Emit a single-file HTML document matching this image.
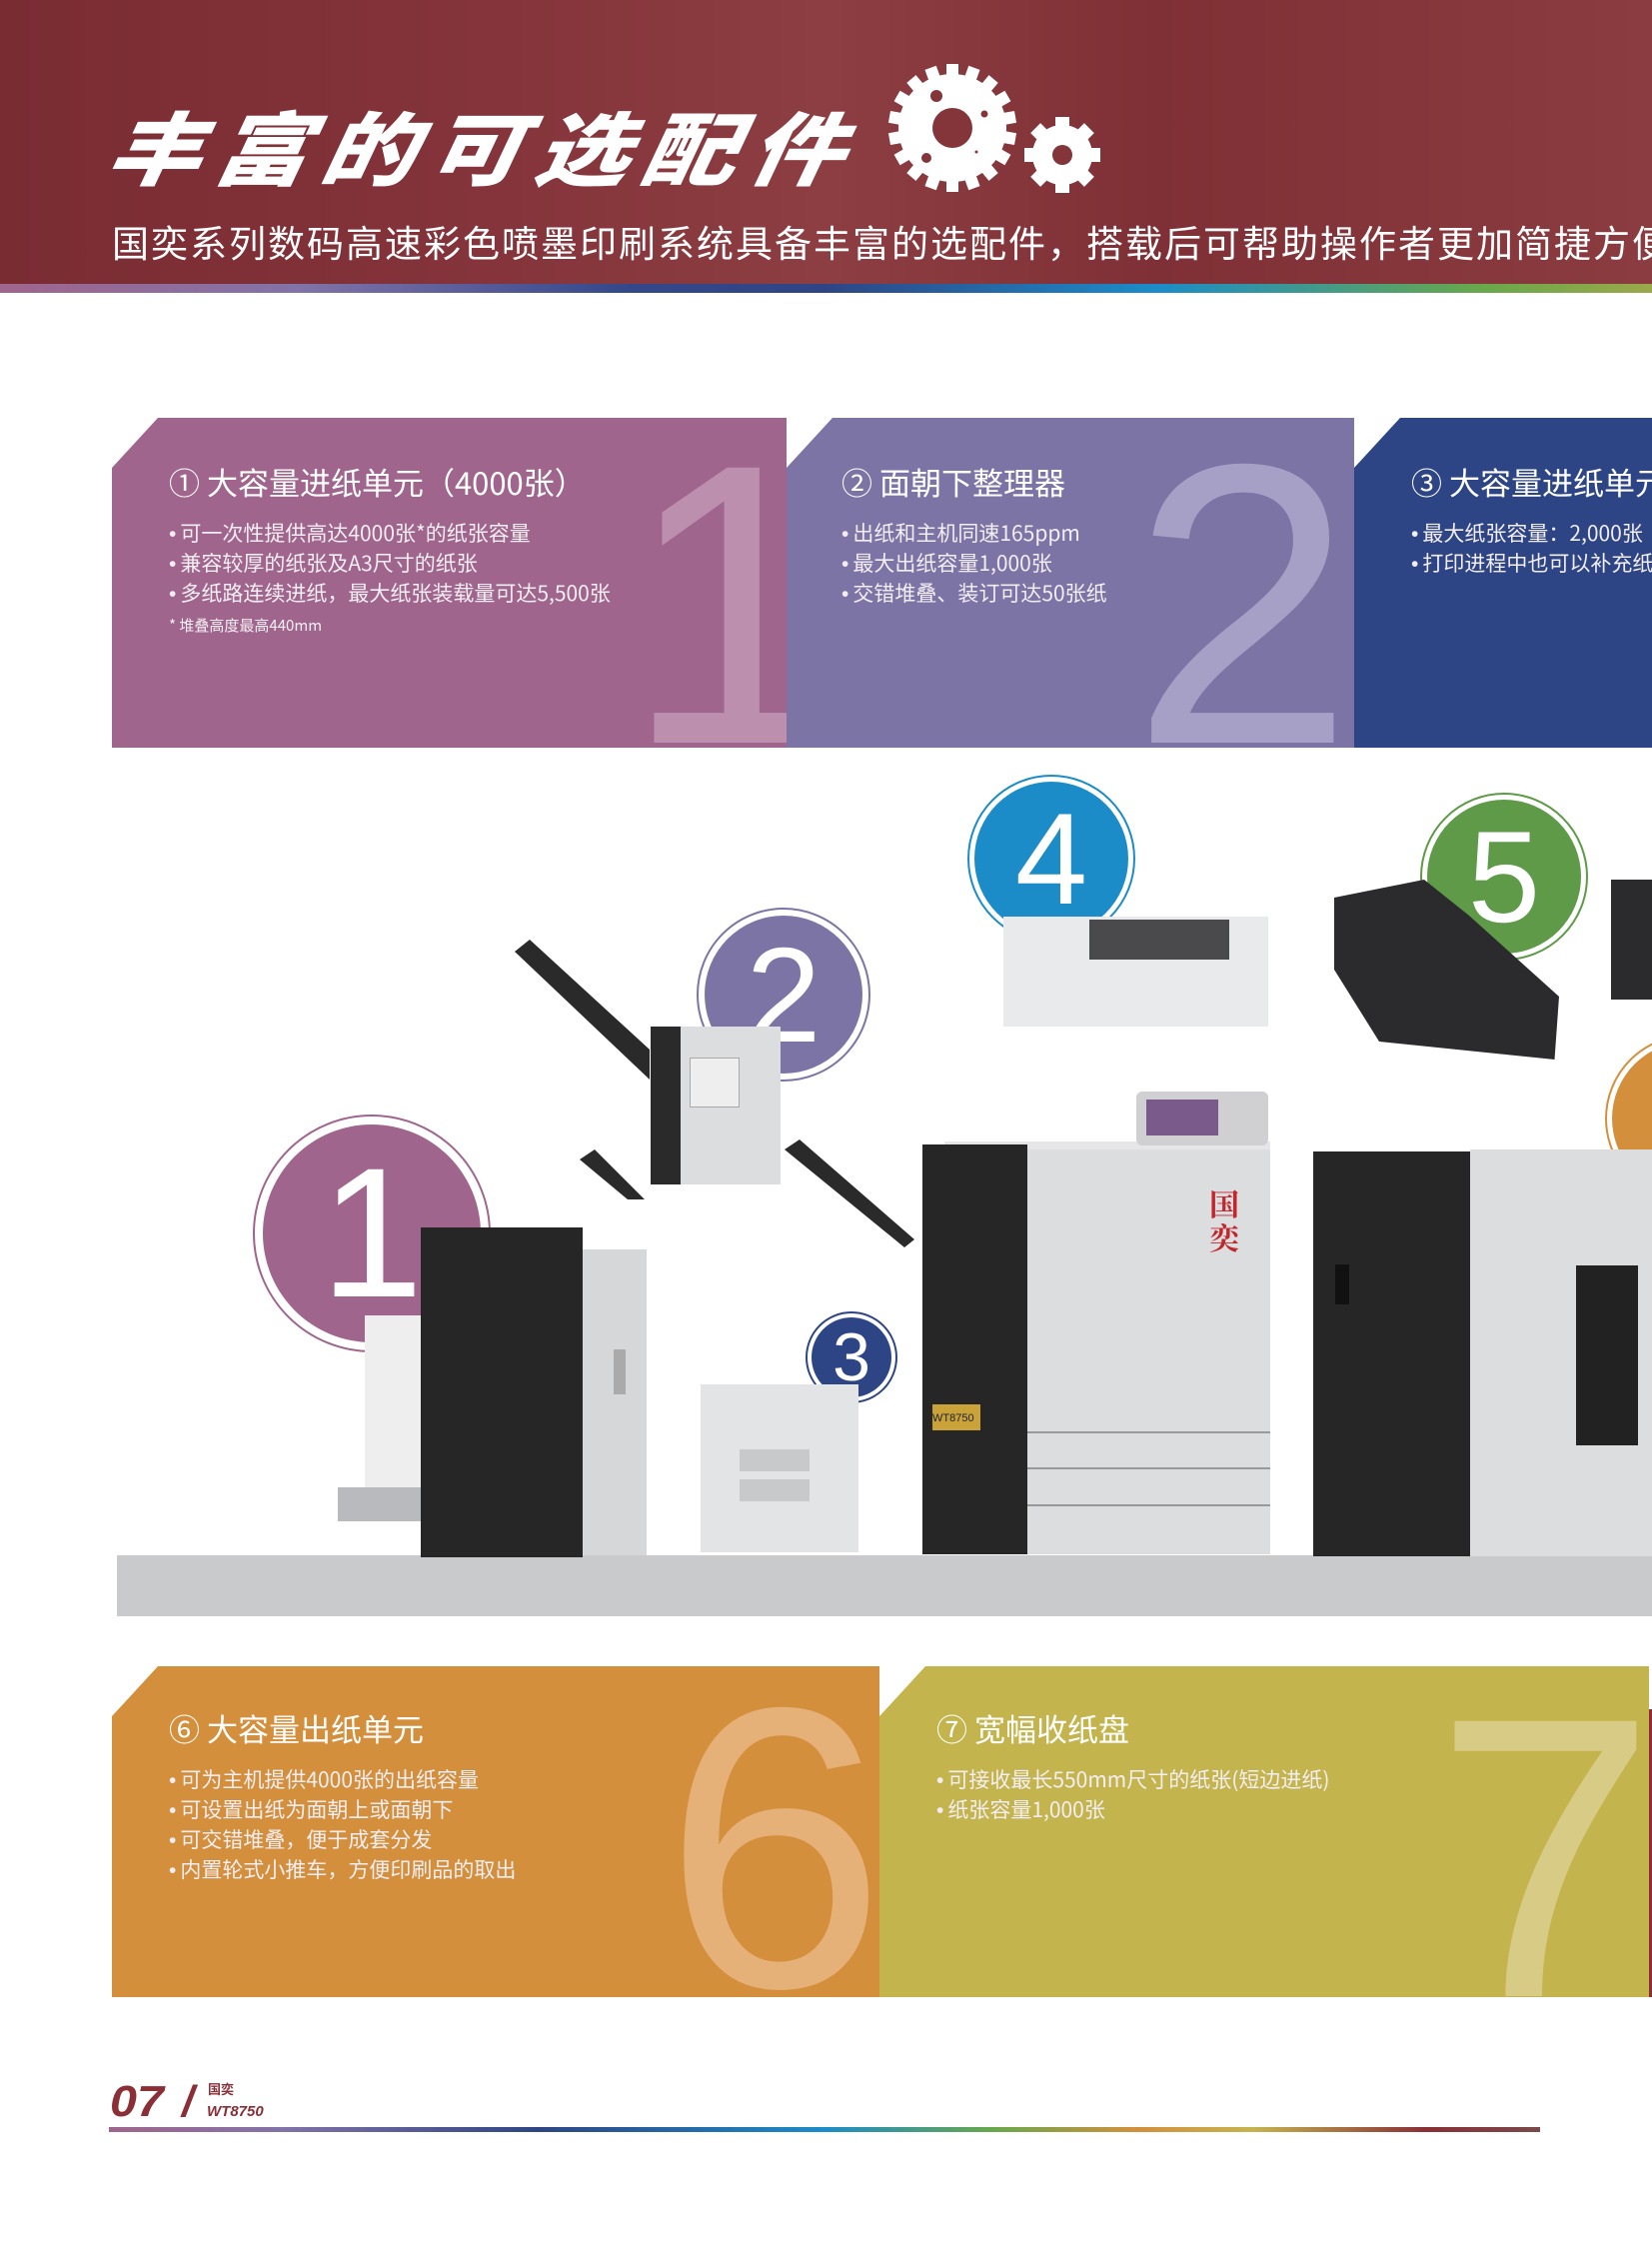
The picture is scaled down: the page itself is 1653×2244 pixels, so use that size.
<!DOCTYPE html>
<html><head><meta charset="utf-8">
<style>
*{margin:0;padding:0;box-sizing:border-box}
body{width:1653px;height:2244px;position:relative;overflow:hidden;background:#fff;font-family:"Liberation Sans","Noto Sans CJK SC",sans-serif;color:#fff}
.a{position:absolute}
.hdr{left:0;top:0;width:1653px;height:284px;background:linear-gradient(90deg,#7a2c33 0%,#84343a 30%,#8c3e42 50%,#7f3036 70%,#8a3c40 100%)}
.stripe{left:0;top:284px;width:1653px;height:9px;background:linear-gradient(90deg,#a0658c 0%,#8273a8 18%,#33488a 38%,#2e4585 50%,#1c8cc8 70%,#6aa84a 90%,#9aa84a 100%)}
.title{left:118px;top:98px;font-size:94px;font-weight:900;font-style:italic;letter-spacing:13px;line-height:110px;white-space:nowrap;font-family:"Noto Sans CJK SC",sans-serif;transform:skewX(-10deg) scaleY(0.85);transform-origin:left top}
.sub{left:112px;top:216px;font-size:37px;letter-spacing:2px;line-height:50px;white-space:nowrap;font-family:"Noto Sans CJK SC",sans-serif}
.panel{overflow:hidden}
.big{position:absolute;font-family:"Liberation Sans",sans-serif;font-size:400px;line-height:400px}
.pt{position:absolute;font-size:31px;line-height:40px;white-space:nowrap;font-family:"Noto Sans CJK SC",sans-serif}
.pb{position:absolute;font-size:21px;line-height:30px;white-space:nowrap;font-family:"Noto Sans CJK SC",sans-serif;color:#f3eef3}
.pb b{font-family:"Liberation Sans",sans-serif;font-weight:normal;margin-right:4px}
.circ{position:absolute;border-radius:50%;display:flex;align-items:center;justify-content:center;font-family:"Liberation Sans",sans-serif;color:#fff}
</style></head><body>
<div class="a hdr"></div>
<div class="a stripe"></div>
<div class="a title">丰富的可选配件</div>
<svg class="a" style="left:880px;top:60px" width="240" height="150" viewBox="880 60 240 150">
 <g fill="#fff">
  <circle cx="953" cy="128" r="54"/>
  <g transform="translate(953 128)">
   <rect x="-6" y="-64" width="12" height="16"/><rect x="-6" y="-64" width="12" height="16" transform="rotate(20)"/><rect x="-6" y="-64" width="12" height="16" transform="rotate(40)"/><rect x="-6" y="-64" width="12" height="16" transform="rotate(60)"/><rect x="-6" y="-64" width="12" height="16" transform="rotate(80)"/><rect x="-6" y="-64" width="12" height="16" transform="rotate(100)"/><rect x="-6" y="-64" width="12" height="16" transform="rotate(120)"/><rect x="-6" y="-64" width="12" height="16" transform="rotate(140)"/><rect x="-6" y="-64" width="12" height="16" transform="rotate(160)"/><rect x="-6" y="-64" width="12" height="16" transform="rotate(180)"/><rect x="-6" y="-64" width="12" height="16" transform="rotate(200)"/><rect x="-6" y="-64" width="12" height="16" transform="rotate(220)"/><rect x="-6" y="-64" width="12" height="16" transform="rotate(240)"/><rect x="-6" y="-64" width="12" height="16" transform="rotate(260)"/><rect x="-6" y="-64" width="12" height="16" transform="rotate(280)"/><rect x="-6" y="-64" width="12" height="16" transform="rotate(300)"/><rect x="-6" y="-64" width="12" height="16" transform="rotate(320)"/><rect x="-6" y="-64" width="12" height="16" transform="rotate(340)"/>
  </g>
  <circle cx="1063" cy="155" r="30"/>
  <g transform="translate(1063 155)">
   <rect x="-7" y="-38" width="14" height="12"/><rect x="-7" y="-38" width="14" height="12" transform="rotate(45)"/><rect x="-7" y="-38" width="14" height="12" transform="rotate(90)"/><rect x="-7" y="-38" width="14" height="12" transform="rotate(135)"/><rect x="-7" y="-38" width="14" height="12" transform="rotate(180)"/><rect x="-7" y="-38" width="14" height="12" transform="rotate(225)"/><rect x="-7" y="-38" width="14" height="12" transform="rotate(270)"/><rect x="-7" y="-38" width="14" height="12" transform="rotate(315)"/>
  </g>
 </g>
 <g fill="#833539">
  <circle cx="953" cy="128" r="20"/><circle cx="937" cy="96" r="6"/><circle cx="985" cy="114" r="3.5"/><circle cx="927" cy="158" r="5"/><circle cx="977" cy="152" r="1.5"/>
  <circle cx="1063" cy="155" r="10"/>
 </g>
</svg>
<div class="a sub">国奕系列数码高速彩色喷墨印刷系统具备丰富的选配件，搭载后可帮助操作者更加简捷方便</div>

<div class="a panel" style="left:112px;top:418px;width:675px;height:330px;background:#a0658c;clip-path:polygon(46px 0,100% 0,100% 100%,0 100%,0 50px)">
 <div class="big" style="left:512px;top:-13px;color:#bc8fae">1</div>
 <div class="pt" style="left:57px;top:44px">① 大容量进纸单元（4000张）</div>
 <div class="pb" style="left:57px;top:100px"><b>•</b>可一次性提供高达4000张*的纸张容量</div>
 <div class="pb" style="left:57px;top:130px"><b>•</b>兼容较厚的纸张及A3尺寸的纸张</div>
 <div class="pb" style="left:57px;top:160px"><b>•</b>多纸路连续进纸，最大纸张装载量可达5,500张</div>
 <div class="pb" style="left:57px;top:196px;font-size:15px;line-height:24px">* 堆叠高度最高440mm</div>
</div>
<div class="a panel" style="left:787px;top:418px;width:568px;height:330px;background:#7d74a6;clip-path:polygon(46px 0,100% 0,100% 100%,0 100%,0 50px)">
 <div class="big" style="left:345px;top:-13px;color:#a6a0c6">2</div>
 <div class="pt" style="left:55px;top:44px">② 面朝下整理器</div>
 <div class="pb" style="left:55px;top:100px"><b>•</b>出纸和主机同速165ppm</div>
 <div class="pb" style="left:55px;top:130px"><b>•</b>最大出纸容量1,000张</div>
 <div class="pb" style="left:55px;top:160px"><b>•</b>交错堆叠、装订可达50张纸</div>
</div>
<div class="a panel" style="left:1355px;top:418px;width:298px;height:330px;background:#2e4585;clip-path:polygon(46px 0,100% 0,100% 100%,0 100%,0 50px)">
 <div class="pt" style="left:57px;top:44px">③ 大容量进纸单元</div>
 <div class="pb" style="left:57px;top:100px"><b>•</b>最大纸张容量：2,000张</div>
 <div class="pb" style="left:57px;top:130px"><b>•</b>打印进程中也可以补充纸张</div>
</div>

<div class="a" style="left:117px;top:1556px;width:1536px;height:61px;background:#c9cacb"></div>
<div class="a" style="left:253px;top:1115px;width:238px;height:238px;border-radius:50%;border:2px solid #a0658c"></div>
<div class="circ" style="left:263px;top:1125px;width:218px;height:218px;background:#a0658c;font-size:185px">1</div>
<div class="a" style="left:697px;top:908px;width:174px;height:174px;border-radius:50%;border:2px solid #7d74a6"></div>
<div class="circ" style="left:705px;top:916px;width:158px;height:158px;background:#7d74a6;font-size:135px">2</div>
<div class="a" style="left:806px;top:1312px;width:92px;height:92px;border-radius:50%;border:2px solid #2e4585"></div>
<div class="circ" style="left:812px;top:1318px;width:80px;height:80px;background:#2e4585;font-size:68px">3</div>
<div class="a" style="left:968px;top:775px;width:168px;height:168px;border-radius:50%;border:2px solid #1c8cc8"></div>
<div class="circ" style="left:975px;top:782px;width:154px;height:154px;background:#1c8cc8;font-size:130px">4</div>
<div class="a" style="left:1421px;top:793px;width:168px;height:168px;border-radius:50%;border:2px solid #5e9a48"></div>
<div class="circ" style="left:1428px;top:800px;width:154px;height:154px;background:#5e9a48;font-size:130px">5</div>
<div class="a" style="left:1606px;top:1035px;width:168px;height:168px;border-radius:50%;border:2px solid #d48f3c"></div>
<div class="circ" style="left:1613px;top:1042px;width:154px;height:154px;background:#d48f3c"></div>

<div class="a" style="left:365px;top:1316px;width:60px;height:172px;background:#eeeeef"></div>
<div class="a" style="left:338px;top:1488px;width:84px;height:34px;background:#b8babd"></div>
<div class="a" style="left:421px;top:1228px;width:162px;height:330px;background:#262626"></div>
<div class="a" style="left:583px;top:1250px;width:64px;height:306px;background:#d6d7d9"></div>
<div class="a" style="left:614px;top:1350px;width:12px;height:45px;background:#aaa"></div>
<svg class="a" style="left:500px;top:930px" width="300" height="270">
 <polygon points="15,22 30,10 150,120 150,150" fill="#2a2a2a"/>
 <polygon points="80,230 95,220 150,275 140,280" fill="#2a2a2a"/>
</svg>
<div class="a" style="left:651px;top:1027px;width:130px;height:158px;background:#dcdddf"></div>
<div class="a" style="left:651px;top:1027px;width:30px;height:158px;background:#2a2a2a"></div>
<div class="a" style="left:690px;top:1058px;width:50px;height:50px;background:#eee;border:1px solid #aaa"></div>
<div class="a" style="left:701px;top:1385px;width:158px;height:168px;background:#e3e4e6"></div>
<div class="a" style="left:740px;top:1450px;width:70px;height:22px;background:#c8c9cb"></div>
<div class="a" style="left:740px;top:1480px;width:70px;height:22px;background:#c8c9cb"></div>
<svg class="a" style="left:780px;top:1130px" width="160" height="120">
 <polygon points="5,20 20,10 135,110 125,118" fill="#2a2a2a"/>
</svg>
<div class="a" style="left:945px;top:1142px;width:326px;height:22px;background:#e6e6e8"></div>
<div class="a" style="left:1137px;top:1092px;width:132px;height:54px;background:#d0d0d2;border-radius:6px"></div>
<div class="a" style="left:1147px;top:1100px;width:72px;height:36px;background:#7a5a8a"></div>
<div class="a" style="left:923px;top:1145px;width:105px;height:410px;background:#262626"></div>
<div class="a" style="left:1028px;top:1150px;width:243px;height:405px;background:#dcdddf"></div>
<div class="a" style="left:1028px;top:1432px;width:243px;height:2px;background:#999"></div>
<div class="a" style="left:1028px;top:1468px;width:243px;height:2px;background:#999"></div>
<div class="a" style="left:1028px;top:1505px;width:243px;height:2px;background:#999"></div>
<div class="a" style="left:933px;top:1405px;width:48px;height:26px;background:#c9a33a;font-size:11px;color:#222;padding-top:8px">WT8750</div>
<div class="a" style="left:1210px;top:1186px;font-size:30px;line-height:34px;color:#c0282d;font-family:'Noto Serif CJK SC',serif;width:34px;font-weight:bold">国<br>奕</div>
<div class="a" style="left:1004px;top:917px;width:265px;height:110px;background:#e9eaec"></div>
<div class="a" style="left:1090px;top:920px;width:140px;height:40px;background:#4a4a4c"></div>
<div class="a" style="left:1335px;top:880px;width:225px;height:180px;background:#2b2b2d;clip-path:polygon(0 10%,40% 0,60% 20%,100% 65%,98% 100%,20% 90%,0 50%)"></div>
<div class="a" style="left:1612px;top:880px;width:41px;height:120px;background:#2b2b2d"></div>
<div class="a" style="left:1314px;top:1152px;width:157px;height:405px;background:#262626"></div>
<div class="a" style="left:1471px;top:1150px;width:182px;height:407px;background:#dcdddf"></div>
<div class="a" style="left:1577px;top:1266px;width:62px;height:180px;background:#222"></div>
<div class="a" style="left:1336px;top:1265px;width:14px;height:40px;background:#111"></div>

<div class="a panel" style="left:112px;top:1667px;width:768px;height:331px;background:#d48f3c;clip-path:polygon(46px 0,100% 0,100% 100%,0 100%,0 50px)">
 <div class="big" style="left:552px;top:-18px;color:#e5b178">6</div>
 <div class="pt" style="left:57px;top:42px">⑥ 大容量出纸单元</div>
 <div class="pb" style="left:57px;top:98px"><b>•</b>可为主机提供4000张的出纸容量</div>
 <div class="pb" style="left:57px;top:128px"><b>•</b>可设置出纸为面朝上或面朝下</div>
 <div class="pb" style="left:57px;top:158px"><b>•</b>可交错堆叠，便于成套分发</div>
 <div class="pb" style="left:57px;top:188px"><b>•</b>内置轮式小推车，方便印刷品的取出</div>
</div>
<div class="a panel" style="left:880px;top:1667px;width:770px;height:331px;background:#c4b44e;clip-path:polygon(46px 0,100% 0,100% 100%,0 100%,0 50px)">
 <div class="big" style="left:555px;top:-8px;color:#d7cb86">7</div>
 <div class="pt" style="left:57px;top:42px">⑦ 宽幅收纸盘</div>
 <div class="pb" style="left:57px;top:98px"><b>•</b>可接收最长550mm尺寸的纸张(短边进纸)</div>
 <div class="pb" style="left:57px;top:128px"><b>•</b>纸张容量1,000张</div>
</div>
<div class="a" style="left:1650px;top:1710px;width:3px;height:288px;background:#8a2f36"></div>

<div class="a" style="left:110px;top:2080px;font-size:44px;line-height:46px;font-weight:bold;font-style:italic;color:#8a2f36;transform:scaleX(1.1);transform-origin:left">07</div>
<div class="a" style="left:182px;top:2080px;font-size:44px;line-height:46px;font-weight:bold;font-style:italic;color:#8a2f36">/</div>
<div class="a" style="left:208px;top:2082px;font-size:13px;line-height:16px;font-weight:bold;color:#8a2f36;font-family:'Noto Sans CJK SC',sans-serif">国奕</div>
<div class="a" style="left:207px;top:2104px;font-size:15px;line-height:18px;font-weight:bold;font-style:italic;color:#8a2f36">WT8750</div>
<div class="a" style="left:109px;top:2128px;width:1432px;height:5px;background:linear-gradient(90deg,#a0658c 0%,#8273a8 12%,#2e4585 30%,#1c8cc8 50%,#6aa84a 62%,#d48f3c 72%,#c4b44e 80%,#8a2f36 92%,#7a4a4a 100%)"></div>
</body></html>
